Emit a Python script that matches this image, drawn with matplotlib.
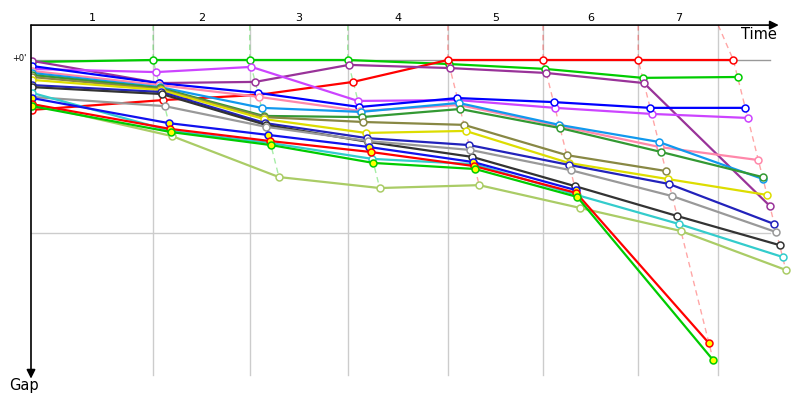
import matplotlib
matplotlib.use('Agg')
import matplotlib.pyplot as plt
from matplotlib.patches import Rectangle

# leader crossing times (s) for lap 0..7, and the lap grid lines
leader_times = [0, 168, 302, 438, 577, 709, 841, 973]
grid_times = [168, 302, 438, 577, 709, 841, 952]
lap_labels = ['1', '2', '3', '4', '5', '6', '7']
leader_color = ['#00cc00', '#00cc00', '#00cc00', '#ff0000', '#ff0000', '#ff0000', '#ff0000']

# gap to leader (s) at lap 0..7, None = no longer running
cars = [
    ('#00cc00', 'white',  [0.7, 0, 0, 0, 1.4, 3.1, 6.2, 5.9]),
    ('#ff0000', 'white',  [17.3, 13.9, 12.1, 7.6, 0, 0, 0, 0]),
    ('#993399', 'white',  [0.3, 8.0, 7.6, 1.7, 2.8, 4.5, 8.0, 50.6]),
    ('#cc44ff', 'white',  [3.1, 4.2, 2.4, 14.2, 13.9, 16.6, 18.7, 20.1]),
    ('#0000ff', 'white',  [2.1, 8.0, 11.4, 16.3, 13.2, 14.6, 16.6, 16.6]),
    ('#ff88aa', 'white',  [3.8, 8.7, 12.8, 17.7, 15.6, 22.9, 30.2, 34.7]),
    ('#1199ee', 'white',  [4.5, 9.4, 16.6, 18.0, 14.9, 22.5, 28.4, 41.3]),
    ('#339933', 'white',  [5.2, 9.7, 19.4, 19.8, 17.0, 23.6, 31.9, 40.6]),
    ('#888844', 'white',  [5.9, 10.1, 19.8, 21.5, 22.5, 33.0, 38.5, None]),
    ('#dddd00', 'white',  [6.9, 10.4, 20.5, 25.3, 24.6, 35.7, 41.3, 46.8]),
    ('#2222bb', 'white',  [8.7, 11.1, 21.9, 27.1, 29.5, 36.4, 43.0, 56.9]),
    ('#333333', 'white',  [9.4, 11.8, 22.5, 28.4, 33.6, 43.7, 54.1, 64.2]),
    ('#999999', 'white',  [12.8, 16.0, 23.2, 28.1, 31.2, 38.2, 47.2, 59.7]),
    ('#33cccc', 'white',  [11.4, 24.6, 28.8, 34.3, 36.1, 46.8, 56.9, 68.3]),
    ('#aacc66', 'white',  [15.3, 26.4, 40.6, 44.4, 43.4, 51.3, 59.3, 72.8]),
    ('#1111ee', 'yellow', [13.2, 21.9, 26.0, 30.2, 35.4, 45.1, None, None]),
    ('#ff0000', 'yellow', [15.3, 23.9, 28.1, 31.9, 36.8, 46.1, 98.2, None]),
    ('#00cc00', 'yellow', [16.0, 25.0, 29.5, 35.7, 37.8, 47.5, 104.1, None]),
]

fig = plt.figure(figsize=(8, 4), dpi=100)
ax = fig.add_axes([0, 0, 1, 1])
ax.set_xlim(-44.4, 1065.5)
ax.set_ylim(117.9, -20.8)
ax.axis('off')

top = -12.1
left = -1.4
bottom = 109.3

# plot area, used to cut the start markers at the gap axis
area = Rectangle((left, top), 1100, 130, transform=ax.transData,
                 fill=False, lw=0)
ax.add_patch(area)

# grid
for t in grid_times:
    ax.plot([t, t], [top, bottom], color='#cccccc', lw=1, zorder=1)
ax.plot([left, 1024], [60, 60], color='#cccccc', lw=1, zorder=1)
ax.plot([left, 1024], [0, 0], color='#999999', lw=1, zorder=1)

# lap connectors (dashed)
for lap in range(1, 8):
    pts = []
    for col, fc, g in cars:
        if g[lap] is not None:
            pts.append((g[lap], leader_times[lap] + g[lap]))
    pts.sort()
    xs = [grid_times[lap - 1]] + [p[1] for p in pts]
    ys = [top] + [p[0] for p in pts]
    ax.plot(xs, ys, color=leader_color[lap - 1], alpha=0.35, lw=1,
            ls=(0, (4, 3)), zorder=2)

# car lines
for col, fc, g in cars:
    xs, ys = [], []
    for lap, v in enumerate(g):
        if v is None:
            continue
        xs.append(0 if lap == 0 else leader_times[lap] + v)
        ys.append(v)
    ln, = ax.plot(xs, ys, color=col, lw=1.6, marker='o', ms=5, mfc=fc,
                  mec=col, mew=1.1, zorder=3)
    ln.set_clip_path(area)

# axes with arrows
ax.annotate('', xy=(1036, top), xytext=(left, top),
            arrowprops=dict(arrowstyle='-|>', color='black', lw=1.2,
                            mutation_scale=13, shrinkA=0, shrinkB=0), zorder=5)
ax.annotate('', xy=(left, 110.5), xytext=(left, top),
            arrowprops=dict(arrowstyle='-|>', color='black', lw=1.2,
                            mutation_scale=13, shrinkA=0, shrinkB=0), zorder=5)

# texts
edges = [0] + grid_times
for i, lab in enumerate(lap_labels):
    ax.text((edges[i] + edges[i + 1]) / 2, -14.6, lab, ha='center', va='center',
            fontsize=8, color='black')
ax.text(1034, -8.7, 'Time', ha='right', va='center', fontsize=10.5)
ax.text(-11, 113, 'Gap', ha='center', va='center', fontsize=10.5)
ax.text(-8, -0.6, "+0'", ha='right', va='center', fontsize=6)

fig.savefig('out.png', dpi=100)
